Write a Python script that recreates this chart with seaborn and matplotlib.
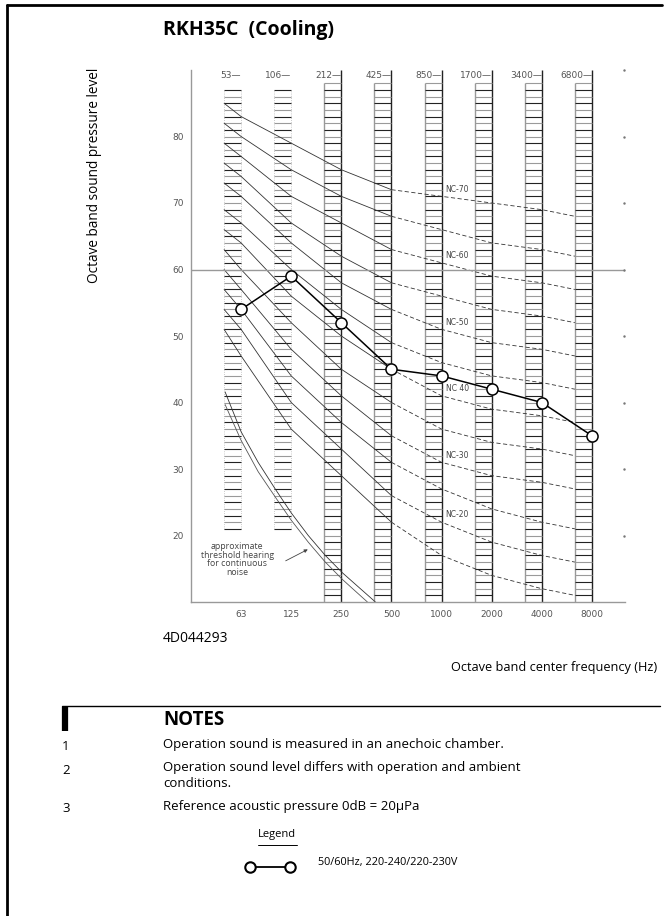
import matplotlib
matplotlib.use("Agg")
import matplotlib.pyplot as plt
from matplotlib.lines import Line2D
import numpy as np
import pandas as pd
import seaborn as sns

# octave band centre frequencies and measured levels (dB)
freqs = ["63", "125", "250", "500", "1000", "2000", "4000", "8000"]
band_edges = ["53", "106", "212", "425", "850", "1700", "3400", "6800"]
measured = [54, 59, 52, 45, 44, 42, 40, 35]

# NC curves: value at the band left edge of 63 Hz, then the 8 octave values
nc_names = [70, 65, 60, 55, 50, 45, 40, 35, 30, 25, 20, 15]
nc_start = [85, 82, 79, 76, 73, 69, 66, 63, 60, 57, 54, 51]
nc_values = [
    [83, 79, 75, 72, 71, 70, 69, 68],
    [80, 75, 71, 68, 66, 64, 63, 62],
    [77, 71, 67, 63, 61, 59, 58, 57],
    [74, 67, 62, 58, 56, 54, 53, 52],
    [71, 64, 58, 54, 51, 49, 48, 47],
    [67, 60, 54, 49, 46, 44, 43, 42],
    [64, 56, 50, 45, 41, 39, 38, 37],
    [60, 52, 45, 40, 36, 34, 33, 32],
    [57, 48, 41, 35, 31, 29, 28, 27],
    [54, 44, 37, 31, 27, 24, 22, 21],
    [51, 40, 33, 26, 22, 19, 17, 16],
    [47, 36, 29, 22, 17, 14, 12, 11],
]
nc_labels = ["NC-70", "NC-60", "NC-50", "NC 40", "NC-30", "NC-20"]
nc_label_levels = [70, 60, 50, 40, 30, 20]

# approximate threshold of hearing (two traced lines)
thr_pos_a = [-0.32, 0, 0.34, 0.68, 1, 1.34, 1.68, 2.02, 2.68]
thr_val_a = [41.6, 35.6, 31.0, 27.0, 23.4, 20.0, 17.0, 14.4, 10.0]
thr_pos_b = [-0.32, 0, 0.34, 0.68, 1, 1.34, 1.68, 2.02, 2.52]
thr_val_b = [39.7, 34.3, 29.6, 25.8, 22.3, 19.0, 16.0, 13.4, 10.0]

BAND_W = 0.34
W, H = 667, 916

sns.set_style("white")
plt.rcParams["font.family"] = ["Open Sans", "DejaVu Sans"]
plt.rcParams["text.color"] = "black"

fig = plt.figure(figsize=(W / 100, H / 100), dpi=100)
ax = fig.add_axes([191 / W, 1 - 602 / H, (625 - 191) / W, (602 - 70) / H])
ax.set_xlim(-1.0, 7.66)
ax.set_ylim(10, 90)

pos = np.arange(len(freqs))

# striped band columns
for i in pos:
    left, right = i - BAND_W, i
    if i < 2:
        lv = np.arange(21, 88)
        ax.vlines([left, right], 21, 87, colors="#bbbbbb", lw=0.6, linestyles=":")
    else:
        lv = np.arange(11, 89)
        ax.vlines(left, 10, 88, colors="#999999", lw=1.0)
        ax.vlines(right, 10, 90, colors="#222222", lw=1.0)
    cols = ["#222222" if v % 2 else "#9a9a9a" for v in lv]
    ax.hlines(lv, left, right, colors=cols, lw=0.8)
    ax.text(right, 89.1, band_edges[i] + "\u2014", ha="right", va="center",
            fontsize=6.5, color="#555555", family="DejaVu Sans")

# NC curves
for name, st, vals in zip(nc_names, nc_start, nc_values):
    xs = [-BAND_W] + list(range(7)) + [7 - BAND_W]
    ys = [st] + vals[:7] + [vals[7]]
    ax.plot(xs[:5], ys[:5], color="#333333", lw=0.6)
    ax.plot(xs[4:], ys[4:], color="#333333", lw=0.6, dashes=(5, 3))
    if name in nc_label_levels:
        ax.text(4.08, vals[4] + 1.1, nc_labels[nc_label_levels.index(name)],
                fontsize=5.5, color="#444444", va="center", ha="left",
                family="DejaVu Sans",
                bbox=dict(facecolor="white", edgecolor="none", pad=0.3))

# threshold of hearing
ax.plot(thr_pos_a, thr_val_a, color="#333333", lw=0.6)
ax.plot(thr_pos_b, thr_val_b, color="#555555", lw=0.6)
ax.text(-0.08, 16.4, "approximate\nthreshold hearing\nfor continuous\nnoise",
        ha="center", va="center", fontsize=6.3, color="#444444", linespacing=0.95)
ax.annotate("", xy=(1.38, 18.1), xytext=(0.84, 16.0),
            arrowprops=dict(arrowstyle="-|>", color="#444444", lw=0.6,
                            mutation_scale=5))

# 60 dB reference line and right-side dots
ax.axhline(60, color="#999999", lw=1.0)
tens = [20, 30, 40, 50, 60, 70, 80, 90]
ax.plot([7.64] * len(tens), tens, ls="none", marker=".", ms=1.5,
        color="#777777", clip_on=False)

# measured data
df = pd.DataFrame({"pos": pos, "level": measured})
sns.lineplot(data=df, x="pos", y="level", ax=ax, color="black", lw=1.1,
             marker="o", markersize=8, markerfacecolor="white",
             markeredgecolor="black", markeredgewidth=1.1, zorder=5)

ax.set_xticks(pos)
ax.set_xticklabels(freqs)
ax.set_yticks([20, 30, 40, 50, 60, 70, 80])
ax.tick_params(axis="both", length=0, labelsize=6.5, labelcolor="#555555")
ax.tick_params(axis="x", pad=6)
ax.tick_params(axis="y", pad=5)
for lab in ax.get_xticklabels() + ax.get_yticklabels():
    lab.set_family("DejaVu Sans")
ax.set_xlabel("")
ax.set_ylabel("")
sns.despine(ax=ax)
for s in ["left", "bottom"]:
    ax.spines[s].set_color("#999999")
    ax.spines[s].set_linewidth(1.0)

# page frame
fig.add_artist(Line2D([7 / W, 7 / W], [0, 1 - 5 / H], color="black", lw=2))
fig.add_artist(Line2D([7 / W, 662 / W], [1 - 5 / H, 1 - 5 / H], color="black", lw=2))

# texts
fig.text(163 / W, 1 - 30 / H, "RKH35C  (Cooling)", fontsize=14, fontweight="bold",
         va="center", ha="left")
fig.text(95 / W, 1 - 68 / H, "Octave band sound pressure level", rotation=90,
         fontsize=9.8, va="top", ha="center")
fig.text(163 / W, 1 - 638 / H, "4D044293", fontsize=10, va="center")
fig.text(657 / W, 1 - 667 / H, "Octave band center frequency (Hz)", fontsize=9.2,
         va="center", ha="right")

# notes block
fig.add_artist(Line2D([62 / W, 660 / W], [1 - 706 / H, 1 - 706 / H], color="black", lw=1))
fig.add_artist(Line2D([65 / W, 65 / W], [1 - 707 / H, 1 - 731 / H], color="black", lw=4.5,
                      solid_capstyle="butt"))
fig.text(163 / W, 1 - 720 / H, "NOTES", fontsize=13.5, fontweight="bold", va="center")
notes = [("1", "Operation sound is measured in an anechoic chamber.", 747),
         ("2", "Operation sound level differs with operation and ambient\nconditions.", 770),
         ("3", "Reference acoustic pressure 0dB = 20\u03bcPa", 809)]
for num, txt, yy in notes:
    fig.text(62 / W, 1 - yy / H, num, fontsize=9.5, va="center")
    fig.text(163 / W, 1 - (yy - 9) / H, txt, fontsize=9.5, va="top", linespacing=1.3)

fig.text(277 / W, 1 - 834 / H, "Legend", fontsize=8, va="center", ha="center")
fig.add_artist(Line2D([258 / W, 297 / W], [1 - 845 / H, 1 - 845 / H], color="black", lw=0.7))
fig.add_artist(Line2D([250 / W, 290 / W], [1 - 867 / H, 1 - 867 / H], color="black", lw=1.3,
                      marker="o", markersize=7.5, markerfacecolor="white",
                      markeredgecolor="black", markeredgewidth=1.5))
fig.text(318 / W, 1 - 863 / H, "50/60Hz, 220-240/220-230V", fontsize=7.8, va="center")

fig.savefig("out.png", dpi=100)
